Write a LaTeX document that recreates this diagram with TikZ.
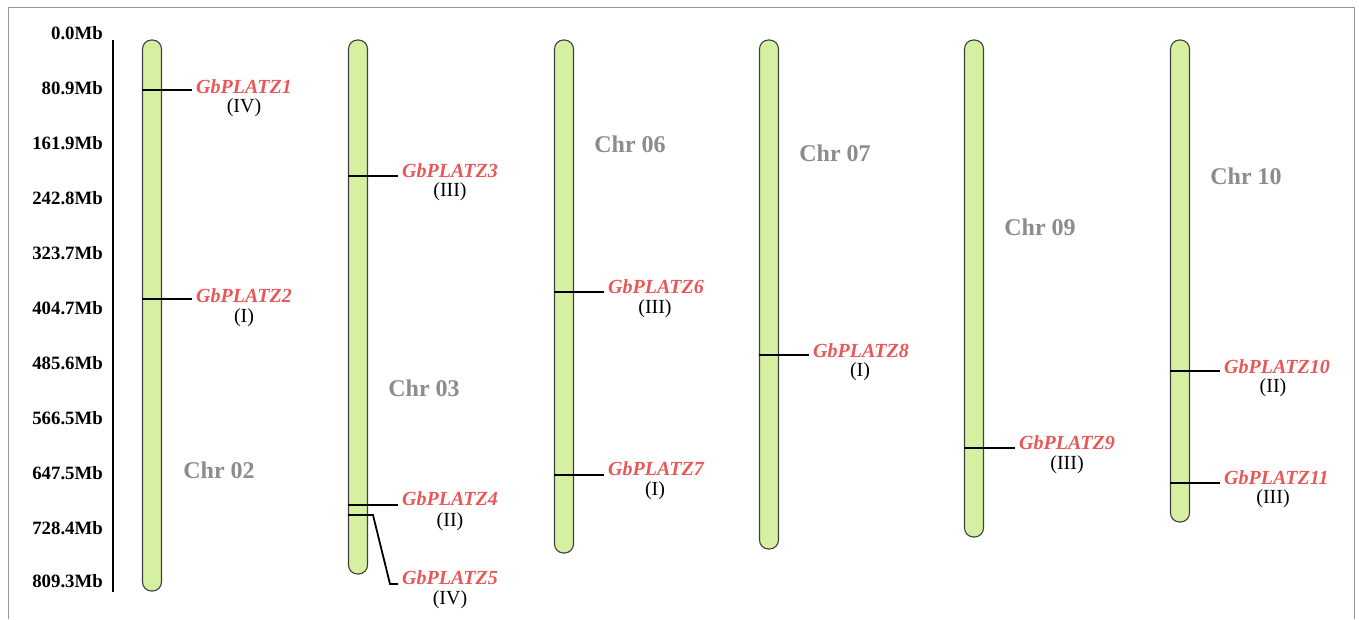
\documentclass[tikz,border=0pt]{standalone}
\usepackage{fontspec}
\setmainfont{Liberation Serif}
\definecolor{chrgreen}{RGB}{212,240,160}
\definecolor{genered}{RGB}{232,88,88}
\definecolor{chrgray}{RGB}{140,140,140}
\definecolor{framegray}{RGB}{150,150,150}
\begin{document}
\begin{tikzpicture}[x=1pt,y=-1pt,
  chrom/.style={draw=black!75, fill=chrgreen, line width=1.1pt, rounded corners=9pt, minimum width=19pt, inner sep=0pt},
  tick/.style={line width=1.8pt},
  gene/.style={text=genered, font=\fontsize{20}{21}\selectfont\bfseries\itshape, inner sep=0pt, anchor=west},
  cls/.style={font=\fontsize{20}{21}\selectfont, inner sep=0pt},
  chrlab/.style={text=chrgray, font=\fontsize{24}{26}\selectfont\bfseries, inner sep=0pt},
  axlab/.style={font=\fontsize{18.8}{20}\selectfont\bfseries, inner sep=0pt, anchor=east}]
\useasboundingbox (0,0) rectangle (1359,619);
\draw[framegray, line width=1pt] (8,619) -- (8,7) -- (1354,7) -- (1354,619);
% axis
\coordinate (ax0) at (113,40);
\coordinate (ax1) at (113,592);
\draw[line width=1.8pt] (ax0) -- (ax1);
\foreach \v/\y in {0.0/33,80.9/88,161.9/143,242.8/198,323.7/253,404.7/308,485.6/363,566.5/418,647.5/473,728.4/528,809.3/581}
  \node[axlab] at (103,\y) {\v Mb};
% chromosomes
\node[chrom, minimum height=551pt] (c2) at (152,315.5) {};
\node[chrom, minimum height=534pt] (c3) at (358,307) {};
\node[chrom, minimum height=513pt] (c6) at (564,296.5) {};
\node[chrom, minimum height=509pt] (c7) at (769,294.5) {};
\node[chrom, minimum height=497pt] (c9) at (974,288.5) {};
\node[chrom, minimum height=482pt] (c10) at (1180,281) {};
\node[chrlab] (l2) at (219,470) {Chr 02};
\node[chrlab] (l3) at (424,388) {Chr 03};
\node[chrlab] (l6) at (630,144) {Chr 06};
\node[chrlab] (l7) at (835,153) {Chr 07};
\node[chrlab] (l9) at (1040,227) {Chr 09};
\node[chrlab] (l10) at (1246,176) {Chr 10};
% genes
\coordinate (t1) at (192,90);
\draw[tick] (c2.west |- t1) -- (t1);
\node[gene] (g1) at (196,87) {GbPLATZ1};
\node[cls] (r1) at (244,108) {(IV)};
\coordinate (t2) at (192,299);
\draw[tick] (c2.west |- t2) -- (t2);
\node[gene] (g2) at (196,296) {GbPLATZ2};
\node[cls] (r2) at (244,318) {(I)};
\coordinate (t3) at (398,176);
\draw[tick] (c3.west |- t3) -- (t3);
\node[gene] (g3) at (402,171) {GbPLATZ3};
\node[cls] (r3) at (450,192) {(III)};
\coordinate (t4) at (398,505);
\draw[tick] (c3.west |- t4) -- (t4);
\node[gene] (g4) at (402,499) {GbPLATZ4};
\node[cls] (r4) at (450,522) {(II)};
\coordinate (t5a) at (373,515);
\coordinate (t5b) at (390,584);
\coordinate (t5) at (398,584);
\draw[tick] (c3.west |- t5a) -- (t5a) -- (t5b) -- (t5);
\node[gene] (g5) at (402,578) {GbPLATZ5};
\node[cls] (r5) at (450,600) {(IV)};
\coordinate (t6) at (604,292);
\draw[tick] (c6.west |- t6) -- (t6);
\node[gene] (g6) at (608,287) {GbPLATZ6};
\node[cls] (r6) at (655,309) {(III)};
\coordinate (t7) at (604,475);
\draw[tick] (c6.west |- t7) -- (t7);
\node[gene] (g7) at (608,469) {GbPLATZ7};
\node[cls] (r7) at (655,491) {(I)};
\coordinate (t8) at (809,355);
\draw[tick] (c7.west |- t8) -- (t8);
\node[gene] (g8) at (813,351) {GbPLATZ8};
\node[cls] (r8) at (860,372) {(I)};
\coordinate (t9) at (1015,448);
\draw[tick] (c9.west |- t9) -- (t9);
\node[gene] (g9) at (1019,443) {GbPLATZ9};
\node[cls] (r9) at (1067,465) {(III)};
\coordinate (t10) at (1220,371);
\draw[tick] (c10.west |- t10) -- (t10);
\node[gene] (g10) at (1224,367) {GbPLATZ10};
\node[cls] (r10) at (1273,388) {(II)};
\coordinate (t11) at (1220,483);
\draw[tick] (c10.west |- t11) -- (t11);
\node[gene] (g11) at (1224,478) {GbPLATZ11};
\node[cls] (r11) at (1273,499) {(III)};
\end{tikzpicture}
\end{document}
